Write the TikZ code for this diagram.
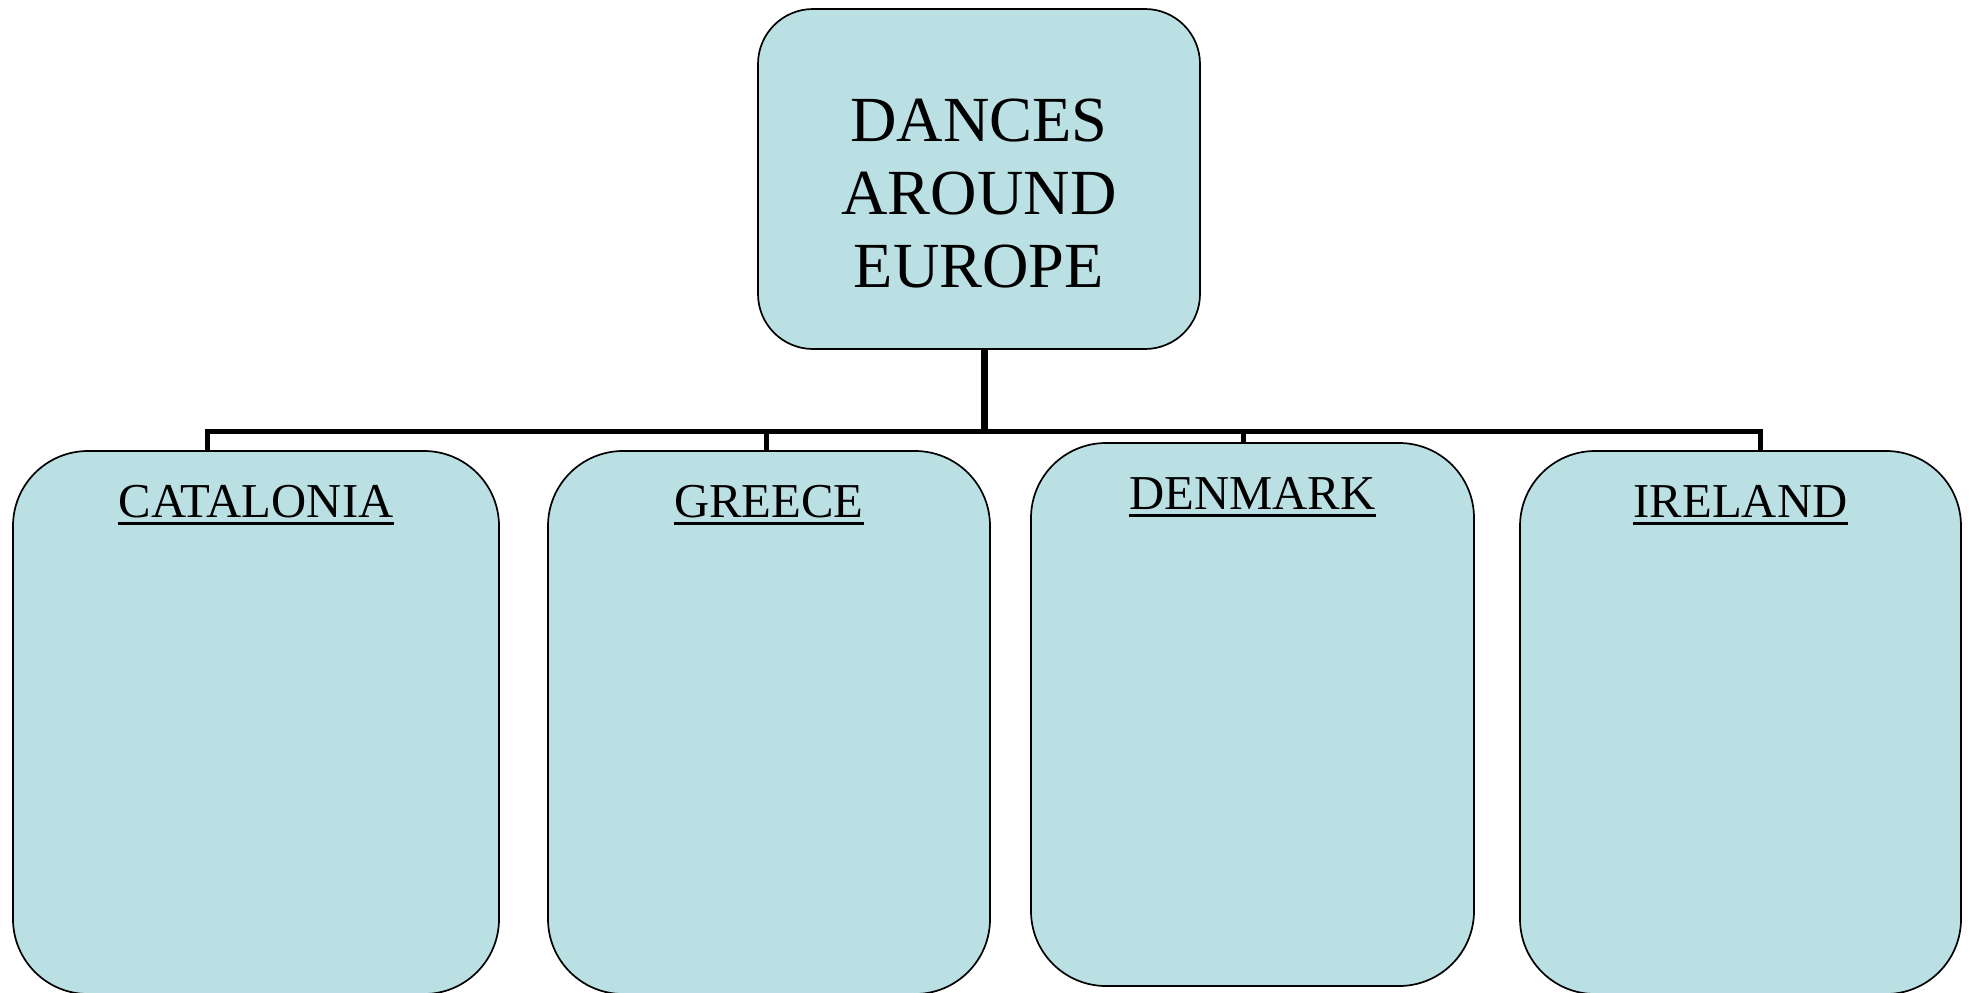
\documentclass[tikz,border=0pt]{standalone}
\usepackage{fontspec}
\setmainfont{Liberation Serif}
\usetikzlibrary{positioning,calc}
\definecolor{boxblue}{HTML}{BBE0E3}

\begin{document}
\begin{tikzpicture}[x=1pt,y=-1pt,
    boxfill/.style={draw=black,line width=1.7pt,fill=boxblue,inner sep=0pt},
    topbox/.style={boxfill,rounded corners=55pt,minimum width=442pt,minimum height=340pt},
    countrybox/.style={boxfill,rounded corners=75pt,minimum height=543pt},
    titletext/.style={inner sep=0pt,align=center,font=\fontsize{64.3}{73.3}\selectfont},
    countryname/.style={inner sep=0pt,anchor=base,font=\fontsize{48.7}{56}\selectfont},
    uline/.style={line width=3.2pt},
    bar/.style={line width=5pt,line join=miter},
    stem/.style={line width=7pt}]
    \useasboundingbox (0,0) rectangle (1970,993);
    \node[topbox] (dances) at (979,179) {};
    \node[countrybox,minimum width=486pt] (cat) at (256,722.5) {};
    \node[countrybox,minimum width=442pt] (gre) at (769,722.5) {};
    \node[countrybox,minimum width=443pt] (den) at (1252.5,714.5) {};
    \node[countrybox,minimum width=441pt] (ire) at (1740.5,722.5) {};
    \node[titletext] (dancesText) at ($(dances.center)+(0,14.5)$) {DANCES\\AROUND\\EUROPE};
    \node[countryname] (catName) at ($(cat.north)+(0,67.5)$) {CATALONIA};
    \node[countryname] (greName) at ($(gre.north)+(0,67.5)$) {GREECE};
    \node[countryname] (denName) at ($(den.north)+(0,67.5)$) {DENMARK};
    \node[countryname] (ireName) at ($(ire.north)+(0,67.5)$) {IRELAND};
    \foreach \n in {catName,greName,denName,ireName}
        \draw[uline] ($(\n.base west)+(0,5.5)$) -- ($(\n.base east)+(0,5.5)$);
    % connectors
    \coordinate (hub) at (984,431);
    \coordinate (pCat) at (207,431);
    \coordinate (pGre) at (766,431);
    \coordinate (pDen) at (1243,431);
    \coordinate (pIre) at (1760,431);
    \draw[stem] (hub |- dances.south) -- (hub);
    \draw[bar] (pCat |- cat.north) -- (pCat) -- (pIre) -- (pIre |- ire.north);
    \draw[bar] (pGre) -- (pGre |- gre.north);
    \draw[bar] (pDen) -- (pDen |- den.north);
\end{tikzpicture}
\end{document}
